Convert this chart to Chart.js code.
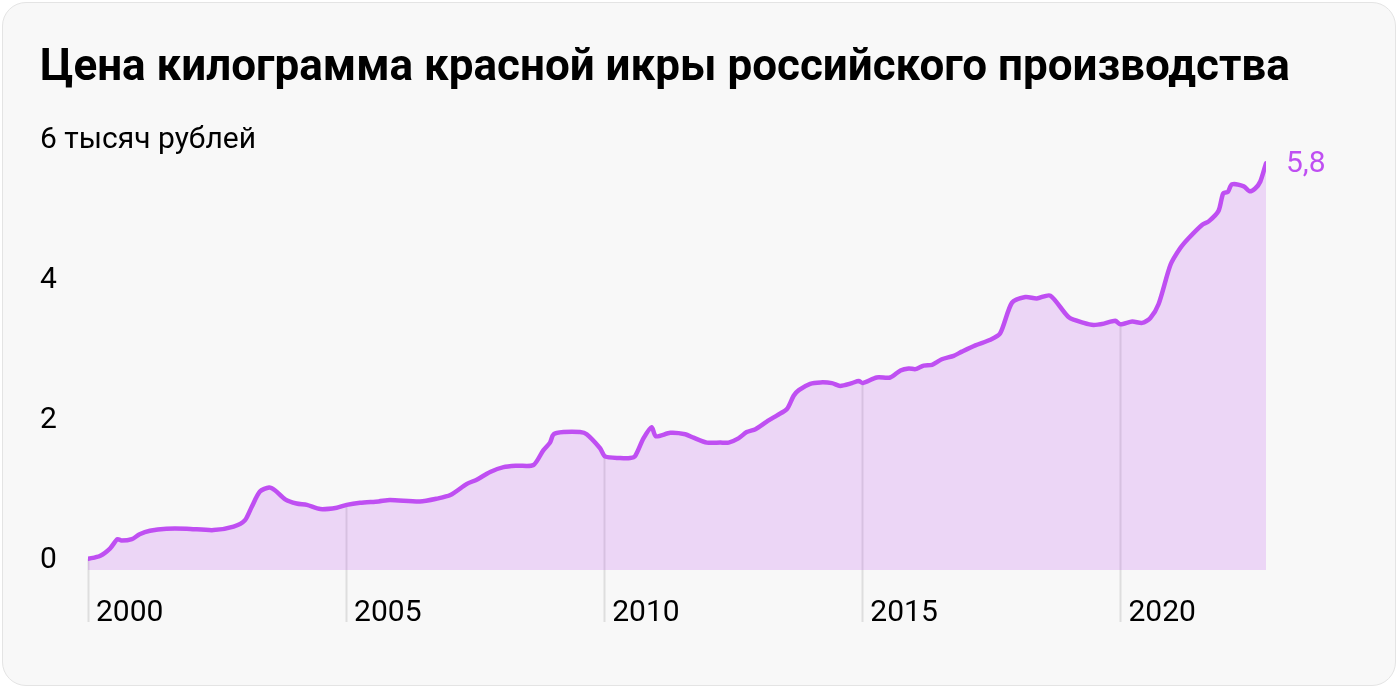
<!DOCTYPE html>
<html lang="ru">
<head>
<meta charset="utf-8">
<script src="https://cdn.jsdelivr.net/npm/chart.js@4"></script>
<style>
  html, body { margin: 0; padding: 0; background: #fff; }
  body { width: 1400px; height: 690px; position: relative; overflow: hidden; font-family: Roboto, "Noto Sans", sans-serif; }
  .card { position: absolute; left: 2px; top: 2px; width: 1394px; height: 684px; box-sizing: border-box;
          border: 1px solid #e4e4e4; border-radius: 24px; background: #f8f8f8; }
  h1 { position: absolute; left: 40px; top: 43px; margin: 0; font-size: 44px; line-height: 44px;
       font-weight: 700; color: #000; white-space: nowrap; z-index: 2; }
  #chart { position: absolute; left: 0; top: 0; z-index: 1; }
</style>
</head>
<body>
<div class="card"></div>
<h1>Цена килограмма красной икры российского производства</h1>
<canvas id="chart" width="1400" height="690"></canvas>
<script>
// годы (дробные) и цена, тыс. руб. за кг
const years = [
  2000.00, 2000.23, 2000.43, 2000.57, 2000.65, 2000.85, 2001.00, 2001.20, 2001.52, 2001.91,
  2002.43, 2002.82, 2003.04, 2003.17, 2003.33, 2003.51, 2003.62, 2003.82, 2004.04, 2004.24,
  2004.50, 2004.82, 2005.01, 2005.27, 2005.63, 2005.85, 2006.43, 2006.76, 2007.02, 2007.34,
  2007.53, 2007.79, 2008.05, 2008.31, 2008.63, 2008.82, 2008.95, 2009.02, 2009.21, 2009.53,
  2009.66, 2009.92, 2010.02, 2010.31, 2010.50, 2010.60, 2010.76, 2010.92, 2011.00, 2011.28,
  2011.57, 2011.73, 2011.99, 2012.25, 2012.41, 2012.60, 2012.76, 2012.93, 2013.15, 2013.35,
  2013.54, 2013.67, 2013.77, 2013.99, 2014.19, 2014.41, 2014.57, 2014.80, 2014.93, 2015.01,
  2015.28, 2015.54, 2015.74, 2015.90, 2016.03, 2016.19, 2016.35, 2016.54, 2016.77, 2016.93,
  2017.19, 2017.48, 2017.67, 2017.90, 2018.16, 2018.38, 2018.64, 2019.00, 2019.29, 2019.48,
  2019.68, 2019.90, 2020.00, 2020.23, 2020.42, 2020.58, 2020.74, 2020.97, 2021.16, 2021.32,
  2021.58, 2021.71, 2021.90, 2021.99, 2022.08, 2022.16, 2022.39, 2022.50, 2022.61, 2022.71,
  2022.82
];
const prices = [
  0.16, 0.20, 0.31, 0.44, 0.42, 0.44, 0.51, 0.56, 0.59, 0.59,
  0.57, 0.62, 0.71, 0.90, 1.12, 1.18, 1.14, 1.01, 0.95, 0.93,
  0.87, 0.89, 0.93, 0.96, 0.98, 1.00, 0.98, 1.02, 1.07, 1.23,
  1.29, 1.40, 1.47, 1.49, 1.50, 1.71, 1.82, 1.94, 1.97, 1.97,
  1.94, 1.74, 1.62, 1.60, 1.60, 1.63, 1.88, 2.04, 1.91, 1.96,
  1.94, 1.89, 1.82, 1.82, 1.82, 1.88, 1.97, 2.01, 2.12, 2.21,
  2.30, 2.49, 2.57, 2.66, 2.68, 2.67, 2.63, 2.67, 2.70, 2.67,
  2.75, 2.75, 2.85, 2.88, 2.87, 2.92, 2.93, 3.01, 3.06, 3.12,
  3.21, 3.29, 3.38, 3.82, 3.90, 3.88, 3.92, 3.61, 3.53, 3.50,
  3.52, 3.56, 3.51, 3.55, 3.53, 3.60, 3.80, 4.36, 4.60, 4.74,
  4.93, 4.98, 5.13, 5.38, 5.40, 5.51, 5.48, 5.41, 5.45, 5.55,
  5.81
];
const yearTicks = [2000, 2005, 2010, 2015, 2020];
const valueTicks = [0, 2, 4];
const unitValue = 6;
const unitLabel = '6 тысяч рублей';
const lastLabel = '5,8';

const purple = '#bf4ff2';
const fillPurple = 'rgba(191, 79, 242, 0.2)';
const fontFamily = 'Roboto, "Noto Sans", sans-serif';
const labelFont = '30px ' + fontFamily;

// вертикальные линии по годам — от кривой вниз до подписей, плюс подписи
const yearLines = {
  id: 'yearLines',
  beforeDatasetsDraw(chart) {
    const { ctx, scales: { x, y } } = chart;
    const pts = chart.getDatasetMeta(0).data;
    ctx.save();
    ctx.strokeStyle = '#dedede';
    ctx.lineWidth = 2;
    yearTicks.forEach(yr => {
      const px = x.getPixelForValue(yr);
      let py = y.getPixelForValue(prices[0]);
      for (let i = 1; i < pts.length; i++) {
        if (pts[i].x >= px) {
          const a = pts[i - 1], b = pts[i];
          const t = b.x === a.x ? 0 : (px - a.x) / (b.x - a.x);
          py = a.y + (b.y - a.y) * t;
          break;
        }
      }
      ctx.beginPath();
      ctx.moveTo(Math.round(px) + 0.5, py);
      ctx.lineTo(Math.round(px) + 0.5, x.top + 52);
      ctx.stroke();
    });
    ctx.restore();
  },
  afterDatasetsDraw(chart) {
    const { ctx, scales: { y } } = chart;
    const pts = chart.getDatasetMeta(0).data;
    const last = pts[pts.length - 1];
    ctx.save();
    ctx.font = labelFont;
    ctx.textAlign = 'left';
    ctx.textBaseline = 'middle';
    ctx.fillStyle = purple;
    ctx.fillText(lastLabel, last.x + 20, last.y + 1);
    ctx.fillStyle = '#000';
    ctx.fillText(unitLabel, y.left, y.getPixelForValue(unitValue) - 10);
    ctx.restore();
  }
};

new Chart(document.getElementById('chart').getContext('2d'), {
  type: 'line',
  data: {
    datasets: [{
      data: years.map((yr, i) => ({ x: yr, y: prices[i] })),
      borderColor: purple,
      backgroundColor: fillPurple,
      borderWidth: 4.5,
      pointRadius: 0,
      tension: 0.25,
      fill: 'origin',
      borderJoinStyle: 'round',
      borderCapStyle: 'round'
    }]
  },
  options: {
    responsive: false,
    animation: false,
    layout: { padding: { left: 40, right: 134, top: 150, bottom: 40 } },
    plugins: { legend: { display: false }, tooltip: { enabled: false } },
    scales: {
      x: {
        type: 'linear',
        min: years[0],
        max: years[years.length - 1],
        afterBuildTicks: scale => { scale.ticks = yearTicks.map(v => ({ value: v })); },
        afterFit: scale => { scale.height = 80; },
        grid: { display: false },
        border: { display: false },
        ticks: {
          align: 'start',
          labelOffset: 8,
          padding: 17,
          color: '#000',
          font: { family: fontFamily, size: 30 },
          callback: v => String(v)
        }
      },
      y: {
        min: 0,
        max: unitValue,
        afterBuildTicks: scale => { scale.ticks = valueTicks.map(v => ({ value: v })); },
        afterFit: scale => { scale.width = 48; },
        grid: { display: false },
        border: { display: false },
        ticks: {
          crossAlign: 'far',
          labelOffset: -10,
          color: '#000',
          font: { family: fontFamily, size: 30 },
          callback: v => String(v)
        }
      }
    }
  },
  plugins: [yearLines]
});
</script>
</body>
</html>
